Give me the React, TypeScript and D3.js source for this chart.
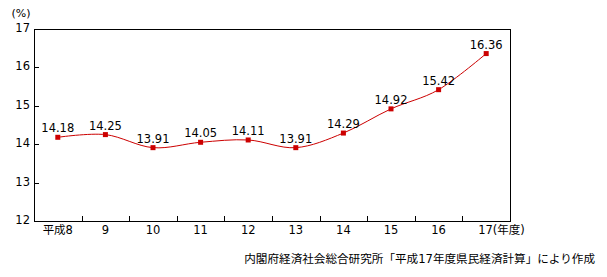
import React from "react";
import * as d3 from "d3";

const categories = ["平成8", "9", "10", "11", "12", "13", "14", "15", "16", "17"];
const values = [14.18, 14.25, 13.91, 14.05, 14.11, 13.91, 14.29, 14.92, 15.42, 16.36];
const yTicks = [12, 13, 14, 15, 16, 17];
const unitLabel = "(%)";
const xUnit = "(年度)";
const sourceText = "内閣府経済社会総合研究所「平成17年度県民経済計算」により作成";

const W = 607;
const H = 277;
const left = 34;
const right = 510;
const top = 29;
const bottom = 221;
const FONT = "'DejaVu Sans', 'Noto Sans CJK JP', sans-serif";
const RED = "#cc0000";

export default function App() {
  const x = d3.scaleBand<string>().domain(categories).range([left, right]).padding(0);
  const y = d3.scaleLinear().domain([12, 17]).range([bottom, top]);
  const cx = (c: string) => (x(c) as number) + x.bandwidth() / 2;
  const pts: [number, number][] = values.map((v, i) => [cx(categories[i]), y(v)]);
  const line = d3.line().curve(d3.curveCardinal.tension(0))(pts) || "";
  const last = categories.length - 1;

  return (
    <div style={{ position: "fixed", left: 0, top: 0, width: W, height: H, background: "#fff" }}>
      <svg width={W} height={H} style={{ display: "block" }} fontFamily={FONT}>
        <rect x={left + 0.5} y={top + 0.5} width={right - left} height={bottom - top} fill="none" stroke="#000" strokeWidth={1} />
        {yTicks.map((t) => (
          <g key={t}>
            {t !== 12 && t !== 17 && (
              <line x1={left} x2={left + 5} y1={Math.round(y(t)) + 0.5} y2={Math.round(y(t)) + 0.5} stroke="#000" />
            )}
            <text x={30} y={y(t) - 1} fontSize={11.5} textAnchor="end" dominantBaseline="central" fill="#000">
              {t}
            </text>
          </g>
        ))}
        <text x={21} y={13} fontSize={11} textAnchor="middle" dominantBaseline="central" fill="#000">
          {unitLabel}
        </text>
        {categories.slice(1).map((c) => (
          <line key={c} x1={Math.round(x(c) as number) + 0.5} x2={Math.round(x(c) as number) + 0.5} y1={bottom} y2={bottom - 5} stroke="#000" />
        ))}
        {categories.map((c, i) => (
          <text
            key={c}
            x={i === last ? cx(c) - 8 : cx(c)}
            y={234}
            fontSize={11.5}
            textAnchor={i === last ? "start" : "middle"}
            fill="#000"
          >
            {i === last ? c + xUnit : c}
          </text>
        ))}
        <path d={line} fill="none" stroke={RED} strokeWidth={1} />
        {pts.map(([px, py], i) => (
          <g key={i}>
            <rect x={px - 2.5} y={py - 2.5} width={5} height={5} fill={RED} />
            <text x={px} y={py - 5} fontSize={11.5} textAnchor="middle" fill="#000">
              {values[i].toFixed(2)}
            </text>
          </g>
        ))}
        <text x={595} y={263} fontSize={11.6} textAnchor="end" fill="#000">
          {sourceText}
        </text>
      </svg>
    </div>
  );
}
